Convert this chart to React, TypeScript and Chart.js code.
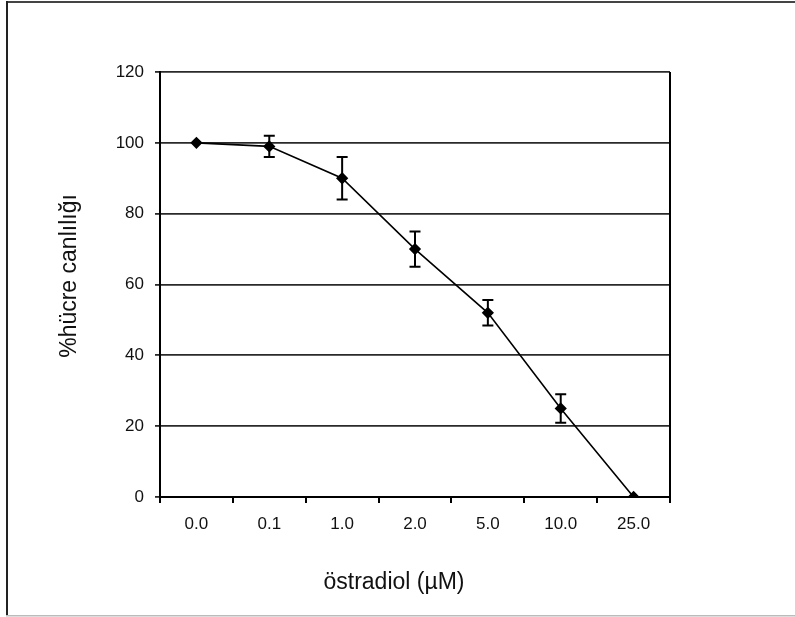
import React, { useEffect, useRef } from "react";
import { Chart, registerables } from "chart.js";

Chart.register(...registerables);

const categories = ["0.0", "0.1", "1.0", "2.0", "5.0", "10.0", "25.0"];
const viability = [100, 99, 90, 70, 52, 25, 0];
const errorAmounts = [0, 3, 6, 5, 3.6, 4, 0];
const yTicks = [0, 20, 40, 60, 80, 100, 120];
const xTitle = "östradiol (µM)";
const yTitle = "%hücre canlılığı";

const FONT = '"Liberation Sans", Arial, sans-serif';

const decorPlugin = {
  id: "decor",
  afterDatasetsDraw(chart: any) {
    const { ctx, scales, chartArea } = chart;
    const xs = scales.x;
    const ys = scales.y;
    ctx.save();
    ctx.strokeStyle = "#000";
    ctx.lineWidth = 2;
    ctx.beginPath();
    ctx.moveTo(chartArea.right, chartArea.top);
    ctx.lineTo(chartArea.right, chartArea.bottom);
    ctx.stroke();
    ctx.lineWidth = 2;
    viability.forEach((v, i) => {
      const e = errorAmounts[i];
      if (!e) return;
      const x = xs.getPixelForValue(i);
      const yt = ys.getPixelForValue(v + e);
      const yb = ys.getPixelForValue(v - e);
      const cap = 5.5;
      ctx.beginPath();
      ctx.moveTo(x, yt);
      ctx.lineTo(x, yb);
      ctx.moveTo(x - cap, yt);
      ctx.lineTo(x + cap, yt);
      ctx.moveTo(x - cap, yb);
      ctx.lineTo(x + cap, yb);
      ctx.stroke();
    });
    ctx.restore();
  },
  afterDraw(chart: any) {
    const { ctx } = chart;
    ctx.save();
    ctx.fillStyle = "#111";
    ctx.font = "23px " + FONT;
    ctx.textAlign = "center";
    ctx.textBaseline = "middle";
    ctx.fillText(xTitle, 394, 583);
    ctx.translate(70, 276);
    ctx.rotate(-Math.PI / 2);
    ctx.fillText(yTitle, 0, 0);
    ctx.restore();
    ctx.save();
    ctx.fillStyle = "#444";
    ctx.fillRect(6, 1, 789, 2);
    ctx.fillStyle = "#222";
    ctx.fillRect(6, 1, 2, 615);
    ctx.fillStyle = "#bbb";
    ctx.fillRect(6, 615, 789, 1.5);
    ctx.restore();
  },
};

export default function App() {
  const ref = useRef<HTMLCanvasElement | null>(null);
  useEffect(() => {
    if (!ref.current) return;
    const chart = new Chart(ref.current, {
      type: "line",
      data: {
        labels: categories,
        datasets: [
          {
            data: viability,
            borderColor: "#000",
            borderWidth: 1.6,
            pointStyle: "rectRot",
            pointRadius: 5,
            pointBackgroundColor: "#000",
            pointBorderColor: "#000",
            tension: 0,
          },
        ],
      },
      options: {
        responsive: false,
        animation: false,
        plugins: {
          legend: { display: false },
          tooltip: { enabled: false },
        },
        layout: { padding: { top: 72, right: 125, left: 0, bottom: 0 } },
        scales: {
          x: {
            type: "category",
            offset: true,
            afterFit(scale: any) {
              scale.height = 120;
            },
            grid: {
              offset: true,
              drawOnChartArea: false,
              drawTicks: true,
              tickLength: 6,
              color: "#000",
              lineWidth: 2,
            },
            border: { color: "#000", width: 2 },
            ticks: {
              color: "#111",
              font: { family: FONT, size: 17 },
              padding: 11,
              maxRotation: 0,
            },
          },
          y: {
            min: 0,
            max: 120,
            afterFit(scale: any) {
              scale.width = 160;
            },
            afterBuildTicks(scale: any) {
              scale.ticks = yTicks.map((v) => ({ value: v }));
            },
            grid: {
              color: "#2a2a2a",
              lineWidth: 1.8,
              tickLength: 5,
              drawTicks: true,
            },
            border: { color: "#000", width: 2 },
            ticks: {
              color: "#111",
              font: { family: FONT, size: 17 },
              padding: 11,
            },
          },
        },
      },
      plugins: [decorPlugin],
    });
    return () => chart.destroy();
  }, []);
  return (
    <div style={{ position: "fixed", left: 0, top: 0, width: 795, height: 617, background: "#fff" }}>
      <canvas ref={ref} width={795} height={617} style={{ display: "block" }} />
    </div>
  );
}
